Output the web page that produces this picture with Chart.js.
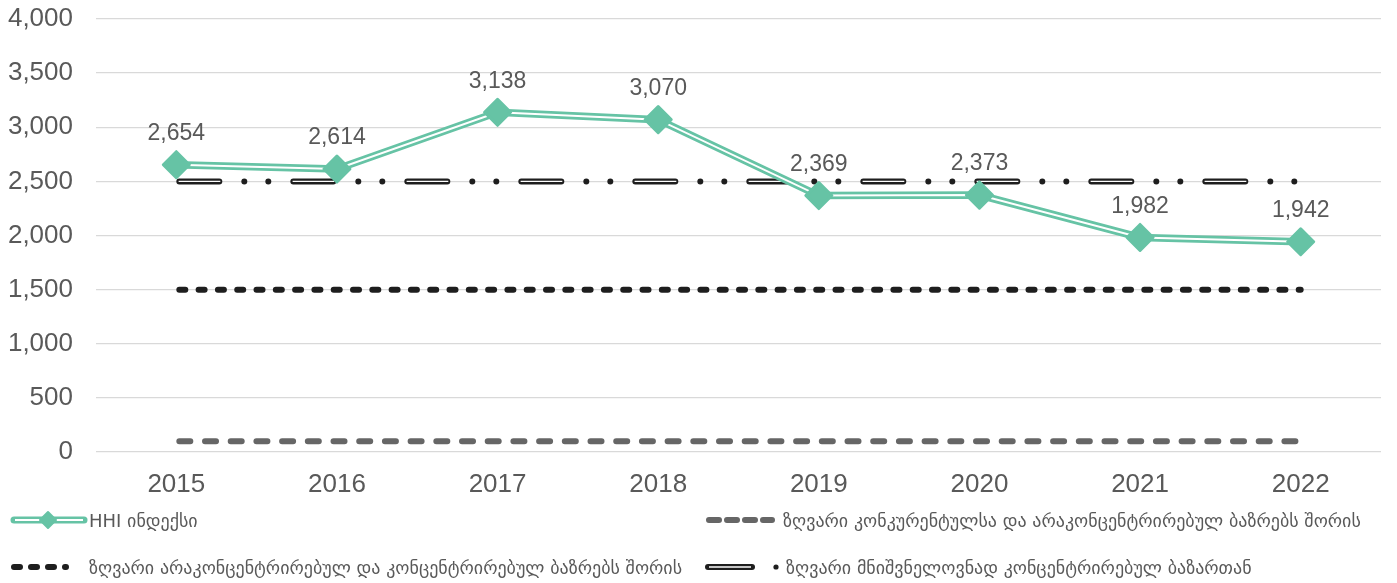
<!DOCTYPE html>
<html>
<head>
<meta charset="utf-8">
<script src="https://cdn.jsdelivr.net/npm/chart.js@4.4.1/dist/chart.umd.min.js"></script>
<style>
  html, body { margin: 0; padding: 0; background: #ffffff; }
  #wrap { width: 1397px; height: 583px; }
</style>
</head>
<body>
<div id="wrap"><canvas id="hhiChart" width="1397" height="583"></canvas></div>
<script>
// カテゴリ（年）
const years = ['2015', '2016', '2017', '2018', '2019', '2020', '2021', '2022'];
// HHI 指数
const hhiValues = [2654, 2614, 3138, 3070, 2369, 2373, 1982, 1942];
// 閾値ライン
const highLimit = [2500, 2500, 2500, 2500, 2500, 2500, 2500, 2500];
const midLimit = [1500, 1500, 1500, 1500, 1500, 1500, 1500, 1500];
const lowLimit = [100, 100, 100, 100, 100, 100, 100, 100];
// Y軸
const yMin = 0;
const yMax = 4000;
const yStep = 500;
// 凡例テキスト
const legendHhi = 'HHI ინდექსი';
const legendLow = 'ზღვარი კონკურენტულსა და არაკონცენტრირებულ ბაზრებს შორის';
const legendMid = 'ზღვარი არაკონცენტრირებულ და კონცენტრირებულ ბაზრებს შორის';
const legendHigh = 'ზღვარი მნიშვნელოვნად კონცენტრირებულ ბაზართან';

const GREEN = '#66c3a5';
const DARK = '#1e1e1e';
const GREY = '#666666';
const TEXT = '#595959';
const NUM_FONT = '"Liberation Sans", Arial, sans-serif';
const GEO_FONT = '"DejaVu Sans", sans-serif';

const fmt = v => Number(v).toLocaleString('en-US');

/**
 * データラベル（HHI の値）を点の上に描く
 */
const valueLabels = {
    id: 'valueLabels',
    afterDatasetsDraw(chart) {
        const ctx = chart.ctx;
        const meta = chart.getDatasetMeta(2);
        ctx.save();
        ctx.font = '23px ' + NUM_FONT;
        ctx.fillStyle = TEXT;
        ctx.textAlign = 'center';
        ctx.textBaseline = 'middle';
        meta.data.forEach((pt, i) => {
            ctx.fillText(fmt(hhiValues[i]), pt.x, pt.y - 31);
        });
        ctx.restore();
    }
};

/**
 * ダイヤ型マーカーの角を丸くする
 */
const roundJoin = {
    id: 'roundJoin',
    beforeDatasetDraw(chart, args) {
        if (args.index === 2) {
            chart.ctx.save();
            chart.ctx.lineJoin = 'round';
        }
    },
    afterDatasetDraw(chart, args) {
        if (args.index === 2) {
            chart.ctx.restore();
        }
    }
};

/**
 * 凡例（2列×2行）をキャンバス下部に描く
 */
const bottomLegend = {
    id: 'bottomLegend',
    afterDraw(chart) {
        const ctx = chart.ctx;
        const stroke = (x1, x2, y, color, width, dash, cap, offset) => {
            ctx.save();
            ctx.beginPath();
            ctx.strokeStyle = color;
            ctx.lineWidth = width;
            ctx.lineCap = cap || 'butt';
            ctx.setLineDash(dash || []);
            ctx.lineDashOffset = offset || 0;
            ctx.moveTo(x1, y);
            ctx.lineTo(x2, y);
            ctx.stroke();
            ctx.restore();
        };
        const text = (str, x, y, maxW) => {
            ctx.save();
            ctx.font = '18px ' + GEO_FONT;
            ctx.fillStyle = TEXT;
            ctx.textAlign = 'left';
            ctx.textBaseline = 'middle';
            ctx.fillText(str, x, y, maxW);
            ctx.restore();
        };
        const row1 = 520;
        const row2 = 567;

        // HHI
        stroke(14, 84, row1, GREEN, 7, [], 'round');
        stroke(15, 83, row1, '#ffffff', 2);
        ctx.save();
        ctx.fillStyle = GREEN;
        ctx.strokeStyle = GREEN;
        ctx.lineWidth = 2;
        ctx.lineJoin = 'round';
        ctx.beginPath();
        ctx.moveTo(48, row1 - 8);
        ctx.lineTo(56, row1);
        ctx.lineTo(48, row1 + 8);
        ctx.lineTo(40, row1);
        ctx.closePath();
        ctx.fill();
        ctx.stroke();
        ctx.restore();
        text(legendHhi, 89, row1 + 2, 112);

        // 1500
        stroke(14, 66, row2, DARK, 6, [6, 11], 'round');
        text(legendMid, 89, row2 + 2, 594);

        // 100
        stroke(709, 772, row1, GREY, 6, [10, 8], 'round');
        text(legendLow, 783, row1 + 2, 585);

        // 2500
        stroke(708, 752, row2, DARK, 6, [], 'round');
        stroke(709, 751, row2, '#ffffff', 1.3);
        ctx.save();
        ctx.fillStyle = DARK;
        ctx.beginPath();
        ctx.arc(776, row2, 2.6, 0, Math.PI * 2);
        ctx.fill();
        ctx.restore();
        text(legendHigh, 786, row2 + 2, 470);
    }
};

const ctx = document.getElementById('hhiChart');
new Chart(ctx, {
    type: 'line',
    data: {
        labels: years,
        datasets: [
            { // HHI 外側の緑線
                data: hhiValues,
                borderColor: GREEN,
                borderWidth: 7.5,
                pointRadius: 0,
                tension: 0,
                order: 3,
            },
            { // HHI 内側の白線
                data: hhiValues,
                borderColor: '#ffffff',
                borderWidth: 2,
                pointRadius: 0,
                tension: 0,
                order: 2,
            },
            { // HHI マーカー
                data: hhiValues,
                showLine: false,
                pointStyle: 'rectRot',
                pointRadius: 13,
                pointBorderWidth: 3,
                pointBackgroundColor: GREEN,
                pointBorderColor: GREEN,
                order: 1,
            },
            { // 2500 黒い一点二鎖線
                data: highLimit,
                borderColor: DARK,
                borderWidth: 6,
                borderCapStyle: 'round',
                borderDash: [40, 25, 0, 24, 0, 25],
                borderDashOffset: -3,
                pointRadius: 0,
                order: 6,
            },
            { // 2500 内側の白線
                data: highLimit,
                borderColor: '#ffffff',
                borderWidth: 1.3,
                borderDash: [41.7, 72.3],
                borderDashOffset: -2.3,
                pointRadius: 0,
                order: 5,
            },
            { // 1500 点線
                data: midLimit,
                borderColor: DARK,
                borderWidth: 6,
                borderCapStyle: 'round',
                borderDash: [6, 13.3],
                borderDashOffset: -3,
                pointRadius: 0,
                order: 7,
            },
            { // 100 破線
                data: lowLimit,
                borderColor: GREY,
                borderWidth: 6,
                borderCapStyle: 'round',
                borderDash: [11, 14.7],
                borderDashOffset: -3,
                pointRadius: 0,
                order: 8,
            },
        ],
    },
    options: {
        responsive: false,
        animation: false,
        events: [],
        layout: {
            padding: { top: 19, right: 8, bottom: 83, left: 0 },
        },
        plugins: {
            legend: { display: false },
            tooltip: { enabled: false },
        },
        scales: {
            x: {
                offset: true,
                grid: { display: false },
                border: { display: false },
                ticks: {
                    color: TEXT,
                    padding: 9,
                    font: { family: NUM_FONT, size: 26 },
                },
                afterFit: scale => { scale.height = 48; },
            },
            y: {
                min: yMin,
                max: yMax,
                border: { display: false },
                grid: {
                    color: '#d9d9d9',
                    lineWidth: 1.3,
                    drawTicks: false,
                },
                ticks: {
                    stepSize: yStep,
                    color: TEXT,
                    padding: 23,
                    font: { family: NUM_FONT, size: 26 },
                    callback: v => fmt(v),
                },
                afterFit: scale => {
                    scale.width = 96;
                    // 目盛ラベル用の上下余白は不要
                    scale.paddingTop = 0;
                    scale.paddingBottom = 0;
                },
            },
        },
    },
    plugins: [roundJoin, valueLabels, bottomLegend],
});
</script>
</body>
</html>
